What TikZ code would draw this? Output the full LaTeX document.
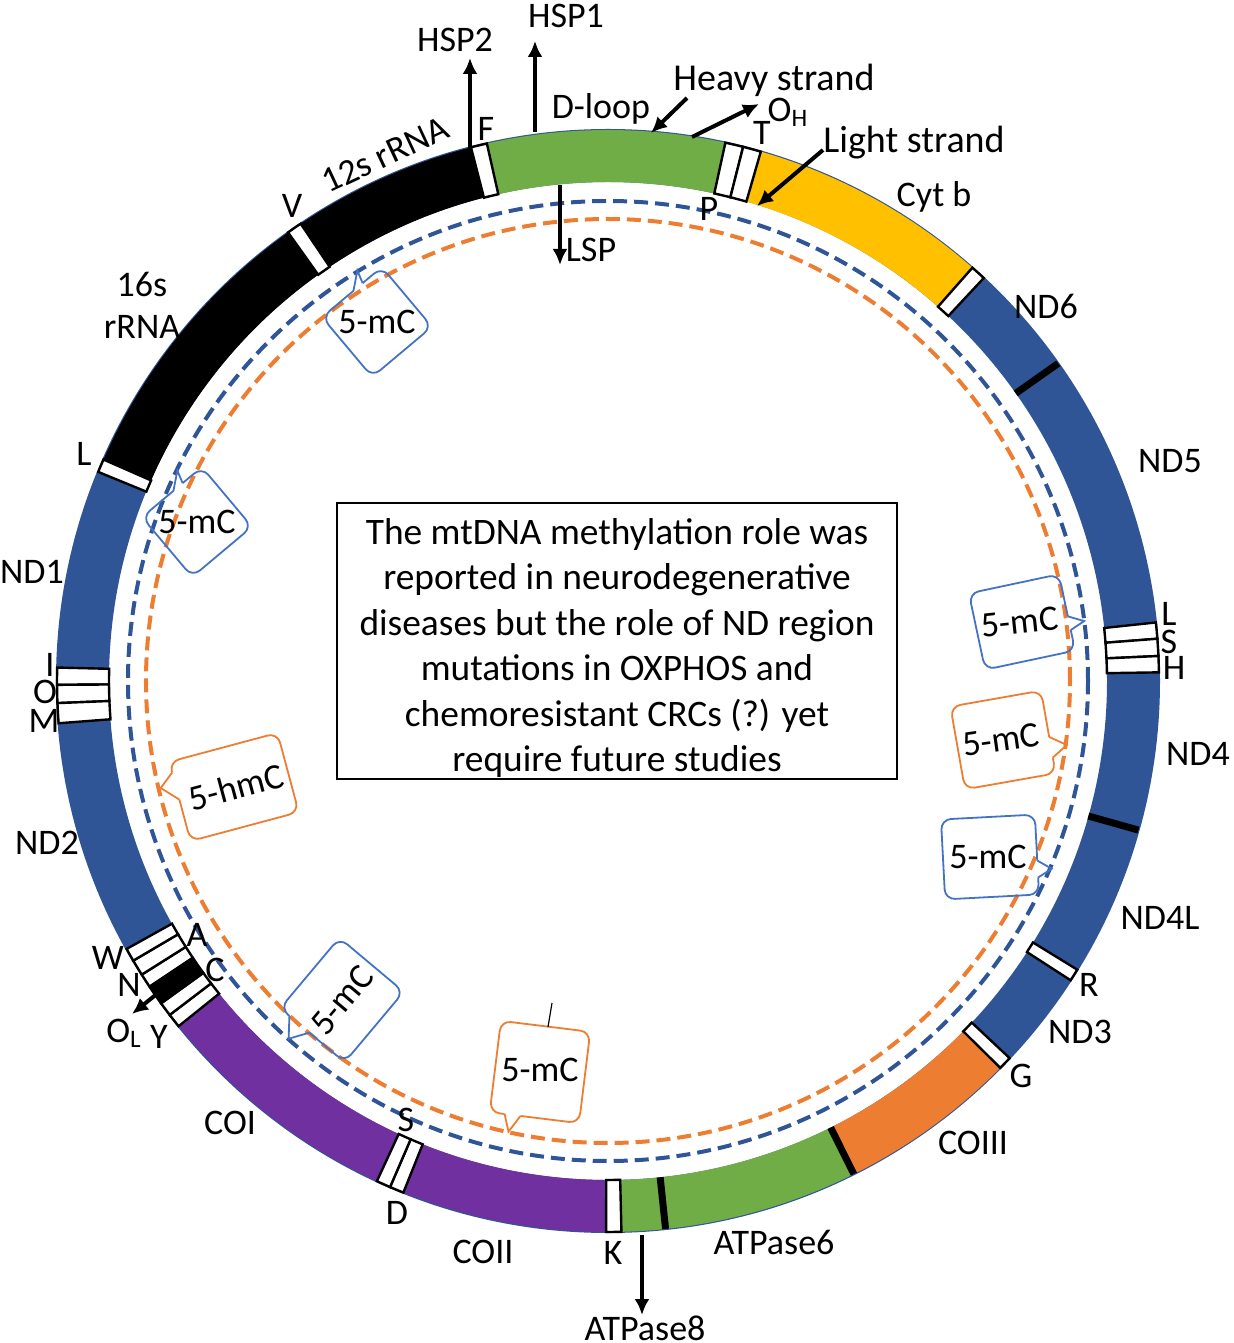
\documentclass[tikz,border=0pt]{standalone}
\usepackage{fontspec}
\setmainfont{Carlito}
\usepackage{tikz}
\usetikzlibrary{arrows.meta, positioning}
\usepackage{xcolor}

\definecolor{mtblue}{HTML}{2F5597}
\definecolor{mtgreen}{HTML}{70AD47}
\definecolor{mtyellow}{HTML}{FFC000}
\definecolor{mtorange}{HTML}{ED7D31}
\definecolor{mtpurple}{HTML}{7030A0}
\definecolor{calloutblue}{HTML}{4472C4}

% 环上的一段: 起始角, 终止角, 样式
\newcommand{\ringpart}[3]{%
    \path[#3] (#1:551) arc[start angle=#1, end angle=#2, radius=551]
        -- (#2:499) arc[start angle=#2, end angle=#1, radius=499] -- cycle;%
}

\begin{document}
\begin{tikzpicture}[
        x=0.5pt, y=0.5pt,
        lbl/.style={font=\fontsize{18}{21}\selectfont, inner sep=0pt},
        biglbl/.style={font=\fontsize{19}{22}\selectfont, inner sep=0pt},
        trna/.style={fill=white, draw=black, line width=1.2pt},
        arr/.style={line width=2pt, -{Latex[length=8pt, width=7.5pt]}},
        strand/.style={line width=2pt, dash pattern=on 7pt off 3.5pt},
        bblue/.style={draw=calloutblue, line width=0.9pt},
        borange/.style={draw=mtorange, line width=0.9pt}
    ]
    \useasboundingbox (-608,-662) rectangle (625,681);
    \coordinate (mtcenter) at (0,0);

    % 线粒体基因组环
    \fill[mtblue, even odd rule] (mtcenter) circle[radius=552] circle[radius=499];
    \foreach \a/\b/\c in {104.4/123.9/black, 125.5/156.3/black, 77.7/102.7/mtgreen,
            48.6/73.9/mtyellow, -63.5/-44.6/mtorange, -88.6/-63.5/mtgreen,
            -111.8/-90.2/mtpurple, -141.2/-114.8/mtpurple}
        \ringpart{\a}{\b}{fill=\c};
    % tRNA
    \foreach \a/\b in {102.7/104.4, 75.8/77.7, 73.9/75.8, 47.0/48.6, 4.4/6.1, 2.6/4.4,
            0.9/2.6, -32.9/-31.6, -44.6/-43.2, -90.2/-88.6, -113.3/-111.8, -114.8/-113.3,
            -142.7/-141.2, -144.2/-142.7, -147.8/-146.3, -149.5/-147.8, -150.9/-149.5,
            178.6/180.4, 180.4/182.3, 182.3/184.4, 156.3/157.7, 123.9/125.5}
        \ringpart{\a}{\b}{trna};
    \ringpart{-146.3}{-144.2}{trna, fill=black};
    \foreach \a in {35.2, -15.7, -63.5, -84}
        \draw[line width=3.5pt] (\a:499) -- (\a:551);

    % 甲基化的两条链
    \draw[strand, mtblue] (mtcenter) circle[radius=480];
    \draw[strand, mtorange] (mtcenter) circle[radius=462];

    % 5-mC / 5-hmC 标注框
    \begin{scope}[shift={(-231,359)}, rotate=40]
        \draw[bblue] (14,39) [rounded corners=5pt] -- (39,39) -- (39,-39) -- (-39,-39) -- (-39,39) -- (2,39);
        \draw[bblue] (2,39) -- (18,52) -- (14,39);
    \end{scope}
    \node[lbl] (mc1) at (-231,359) {5-mC};
    \begin{scope}[shift={(-411,159)}, rotate=40]
        \draw[bblue] (14,39) [rounded corners=5pt] -- (39,39) -- (39,-39) -- (-39,-39) -- (-39,39) -- (2,39);
        \draw[bblue] (2,39) -- (18,52) -- (14,39);
    \end{scope}
    \node[lbl] (mc2) at (-411,159) {5-mC};
    \begin{scope}[shift={(414,59)}, rotate=12]
        \draw[bblue] (46,-18) [rounded corners=5pt] -- (46,-39) -- (-46,-39) -- (-46,39) -- (46,39) -- (46,-4);
        \draw[bblue] (46,-4) -- (61,-12) -- (46,-18);
    \end{scope}
    \node[lbl, rotate=6] (mc3) at (412,59) {5-mC};
    \begin{scope}[shift={(395,-59)}, rotate=10]
        \draw[borange] (46,-26) [rounded corners=5pt] -- (46,-42) -- (-46,-42) -- (-46,42) -- (46,42) -- (46,-5);
        \draw[borange] (46,-5) -- (62,-16) -- (46,-26);
    \end{scope}
    \node[lbl, rotate=8] (mc4) at (393,-59) {5-mC};
    \begin{scope}[shift={(382,-176)}, rotate=3]
        \draw[bblue] (47,-23) [rounded corners=5pt] -- (47,-40) -- (-47,-40) -- (-47,40) -- (47,40) -- (47,-6);
        \draw[bblue] (47,-6) -- (61,-15) -- (47,-23);
    \end{scope}
    \node[lbl] (mc5) at (380,-176) {5-mC};
    \begin{scope}[shift={(-374,-106)}, rotate=15]
        \draw[borange] (-56,2) [rounded corners=5pt] -- (-56,-41) -- (56,-41) -- (56,41) -- (-56,41) -- (-56,30);
        \draw[borange] (-56,30) -- (-71,18) -- (-56,2);
    \end{scope}
    \node[lbl, rotate=15] (hmc) at (-372,-106) {5-hmC};
    \begin{scope}[shift={(-266,-319)}, rotate=50]
        \draw[bblue] (-46,4) [rounded corners=5pt] -- (-46,-42) -- (46,-42) -- (46,42) -- (-46,42) -- (-46,30);
        \draw[bblue] (-46,30) -- (-64,16) -- (-46,4);
    \end{scope}
    \node[lbl, rotate=50] (mc7) at (-266,-319) {5-mC};
    \begin{scope}[shift={(-68,-391)}, rotate=-7]
        \draw[borange] (-14,-46) [rounded corners=5pt] -- (45,-46) -- (45,46) -- (-45,46) -- (-45,-46) -- (-30,-46);
        \draw[borange] (-30,-46) -- (-24,-63) -- (-14,-46);
    \end{scope}
    \node[lbl] (mc8) at (-68,-389) {5-mC};
    \coordinate (tickA) at (-60,-346);
    \coordinate (tickB) at (-56,-322);
    \draw[line width=0.6pt] (tickA) -- (tickB);

    % 基因名称
    \node[lbl] (hsp2) at (-153,641) {HSP2};
    \node[lbl] (hsp1) at (-42,665) {HSP1};
    \node[lbl] (dloop) at (-7,572) {D-loop};
    \node[biglbl] (heavy) at (166,601) {Heavy strand};
    \node[lbl] (oh) at (180,569) {O\textsubscript{H}};
    \node[lbl] (tT) at (154,548) {T};
    \node[lbl] (tP) at (101,472) {P};
    \node[biglbl] (light) at (306,538) {Light strand};
    \node[lbl] (lsp) at (-17,431) {LSP};
    \node[lbl] (tF) at (-122,552) {F};
    \node[lbl] (cytb) at (326,484) {Cyt b};
    \node[lbl] (nd6) at (438,375) {ND6};
    \node[lbl] (nd5) at (562,220) {ND5};
    \node[lbl] (tLb) at (561,67) {L};
    \node[lbl] (tSb) at (561,39) {S};
    \node[lbl] (tH) at (566,13) {H};
    \node[lbl] (nd4) at (590,-73) {ND4};
    \node[lbl] (nd4l) at (552,-237) {ND4L};
    \node[lbl] (tR) at (481,-304) {R};
    \node[lbl] (nd3) at (472,-351) {ND3};
    \node[lbl] (tG) at (413,-395) {G};
    \node[lbl] (co3) at (365,-462) {COIII};
    \node[lbl] (atp6) at (166,-561) {ATPase6};
    \node[lbl] (atp8) at (37,-647) {ATPase8};
    \node[lbl] (tK) at (5,-572) {K};
    \node[lbl] (co2) at (-125,-571) {COII};
    \node[lbl] (tD) at (-211,-532) {D};
    \node[lbl] (tSa) at (-202,-439) {S};
    \node[lbl] (co1) at (-378,-442) {COI};
    \node[lbl] (tY) at (-449,-356) {Y};
    \node[lbl] (ol) at (-484,-352) {O\textsubscript{L}};
    \node[lbl] (tN) at (-479,-304) {N};
    \node[lbl] (tC) at (-393,-289) {C};
    \node[lbl] (tW) at (-500,-277) {W};
    \node[lbl] (tA) at (-411,-254) {A};
    \node[lbl] (nd2) at (-561,-162) {ND2};
    \node[lbl] (tM) at (-564,-40) {M};
    \node[lbl] (tO) at (-563,-11) {O};
    \node[lbl] (tI) at (-558,16) {I};
    \node[lbl] (nd1) at (-576,109) {ND1};
    \node[lbl] (tLa) at (-524,227) {L};
    \node[lbl, align=center] (rrna16) at (-466,376) {16s\\rRNA};
    \node[lbl] (tV) at (-316,475) {V};
    \node[lbl, rotate=25] (rrna12) at (-223,526) {12s rRNA};

    % 箭头
    \coordinate (hsp2foot) at (-138,531);
    \coordinate (hsp2head) at (-138,623);
    \coordinate (hsp1foot) at (-73,549);
    \coordinate (hsp1head) at (-73,640);
    \coordinate (lspfoot) at (-48,496);
    \coordinate (lsphead) at (-48,416);
    \coordinate (heavyfoot) at (79,583);
    \coordinate (heavyhead) at (43,548);
    \coordinate (ohfoot) at (84,544);
    \coordinate (ohhead) at (151,577);
    \coordinate (lightfoot) at (215,531);
    \coordinate (lighthead) at (149,475);
    \coordinate (atp8foot) at (34,-554);
    \coordinate (atp8head) at (34,-634);
    \coordinate (olfoot) at (-450,-312);
    \coordinate (olhead) at (-476,-333);
    \draw[arr] (hsp2foot) -- (hsp2head);
    \draw[arr] (hsp1foot) -- (hsp1head);
    \draw[arr] (lspfoot) -- (lsphead);
    \draw[arr] (heavyfoot) -- (heavyhead);
    \draw[arr] (ohfoot) -- (ohhead);
    \draw[arr] (lightfoot) -- (lighthead);
    \draw[arr] (atp8foot) -- (atp8head);
    \draw[arr] (olfoot) -- (olhead);

    % 中间的说明框
    \node[draw, line width=1pt, fill=white, minimum width=280pt, minimum height=138pt] (summary) at (9,40) {};
    \node[align=center, inner sep=0pt, font=\fontsize{18.7}{22.7}\selectfont] (summarytext) at (9,33)
        {The mtDNA methylation role was\\reported in neurodegenerative\\diseases but the role of ND region\\mutations in OXPHOS and\\chemoresistant CRCs (?) yet\\require future studies};
\end{tikzpicture}
\end{document}
